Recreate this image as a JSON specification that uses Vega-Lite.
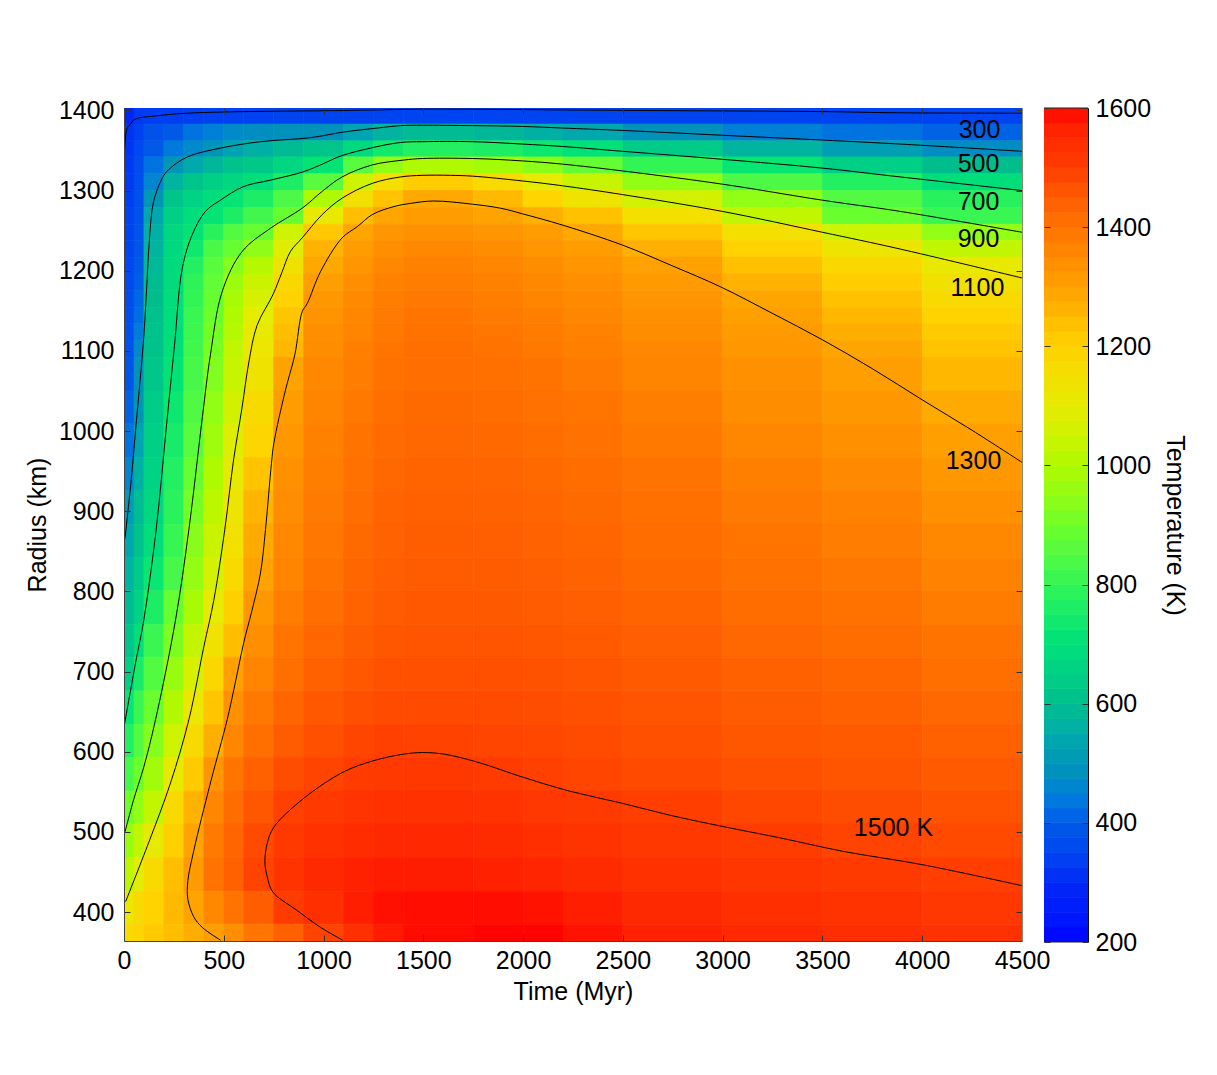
{"padding":{"left":25,"top":96,"right":5,"bottom":5},"background":"white","config":{"view":{"stroke":null},"axis":{"grid":false,"labelFont":"Liberation Sans","titleFont":"Liberation Sans","labelFontSize":25,"titleFontSize":25,"titleFontWeight":"normal","labelColor":"#000","titleColor":"#000","tickColor":"#333","domainColor":"#444","labelOverlap":false,"labelFlush":false,"format":"d"}},"datasets":{
"timeBins":[{"t":0,"t2":50},{"t":50,"t2":100},{"t":100,"t2":200},{"t":200,"t2":300},{"t":300,"t2":400},{"t":400,"t2":500},{"t":500,"t2":600},{"t":600,"t2":750},{"t":750,"t2":900},{"t":900,"t2":1100},{"t":1100,"t2":1250},{"t":1250,"t2":1400},{"t":1400,"t2":1750},{"t":1750,"t2":2000},{"t":2000,"t2":2200},{"t":2200,"t2":2500},{"t":2500,"t2":3000},{"t":3000,"t2":3500},{"t":3500,"t2":4000},{"t":4000,"t2":4500}],
"radiusBins":[{"r":1383,"r2":1403},{"r":1362,"r2":1383},{"r":1342,"r2":1362},{"r":1321,"r2":1342},{"r":1300,"r2":1321},{"r":1279,"r2":1300},{"r":1258,"r2":1279},{"r":1238,"r2":1258},{"r":1217,"r2":1238},{"r":1196,"r2":1217},{"r":1175,"r2":1196},{"r":1154,"r2":1175},{"r":1134,"r2":1154},{"r":1113,"r2":1134},{"r":1092,"r2":1113},{"r":1050,"r2":1092},{"r":1009,"r2":1050},{"r":967,"r2":1009},{"r":926,"r2":967},{"r":884,"r2":926},{"r":842,"r2":884},{"r":801,"r2":842},{"r":759,"r2":801},{"r":718,"r2":759},{"r":676,"r2":718},{"r":634,"r2":676},{"r":593,"r2":634},{"r":551,"r2":593},{"r":510,"r2":551},{"r":468,"r2":510},{"r":426,"r2":468},{"r":385,"r2":426},{"r":364,"r2":385}],
"cells":[
{"t":0,"r":1383,"T":300},{"t":50,"r":1383,"T":325},{"t":100,"r":1383,"T":335},{"t":200,"r":1383,"T":335},{"t":300,"r":1383,"T":338},{"t":400,"r":1383,"T":340},{"t":500,"r":1383,"T":340},{"t":600,"r":1383,"T":342},{"t":750,"r":1383,"T":344},{"t":900,"r":1383,"T":345},{"t":1100,"r":1383,"T":345},{"t":1250,"r":1383,"T":345},{"t":1400,"r":1383,"T":345},{"t":1750,"r":1383,"T":345},{"t":2000,"r":1383,"T":345},{"t":2200,"r":1383,"T":345},{"t":2500,"r":1383,"T":345},{"t":3000,"r":1383,"T":345},{"t":3500,"r":1383,"T":345},{"t":4000,"r":1383,"T":345},
{"t":0,"r":1362,"T":315},{"t":50,"r":1362,"T":340},{"t":100,"r":1362,"T":380},{"t":200,"r":1362,"T":400},{"t":300,"r":1362,"T":430},{"t":400,"r":1362,"T":450},{"t":500,"r":1362,"T":470},{"t":600,"r":1362,"T":480},{"t":750,"r":1362,"T":490},{"t":900,"r":1362,"T":490},{"t":1100,"r":1362,"T":530},{"t":1250,"r":1362,"T":570},{"t":1400,"r":1362,"T":590},{"t":1750,"r":1362,"T":580},{"t":2000,"r":1362,"T":560},{"t":2200,"r":1362,"T":540},{"t":2500,"r":1362,"T":490},{"t":3000,"r":1362,"T":450},{"t":3500,"r":1362,"T":430},{"t":4000,"r":1362,"T":410},
{"t":0,"r":1342,"T":320},{"t":50,"r":1342,"T":355},{"t":100,"r":1342,"T":400},{"t":200,"r":1342,"T":440},{"t":300,"r":1342,"T":470},{"t":400,"r":1342,"T":495},{"t":500,"r":1342,"T":530},{"t":600,"r":1342,"T":560},{"t":750,"r":1342,"T":590},{"t":900,"r":1342,"T":620},{"t":1100,"r":1342,"T":680},{"t":1250,"r":1342,"T":740},{"t":1400,"r":1342,"T":770},{"t":1750,"r":1342,"T":760},{"t":2000,"r":1342,"T":730},{"t":2200,"r":1342,"T":700},{"t":2500,"r":1342,"T":640},{"t":3000,"r":1342,"T":570},{"t":3500,"r":1342,"T":520},{"t":4000,"r":1342,"T":480},
{"t":0,"r":1321,"T":325},{"t":50,"r":1321,"T":365},{"t":100,"r":1321,"T":430},{"t":200,"r":1321,"T":500},{"t":300,"r":1321,"T":545},{"t":400,"r":1321,"T":580},{"t":500,"r":1321,"T":610},{"t":600,"r":1321,"T":630},{"t":750,"r":1321,"T":670},{"t":900,"r":1321,"T":715},{"t":1100,"r":1321,"T":860},{"t":1250,"r":1321,"T":950},{"t":1400,"r":1321,"T":1000},{"t":1750,"r":1321,"T":980},{"t":2000,"r":1321,"T":940},{"t":2200,"r":1321,"T":880},{"t":2500,"r":1321,"T":800},{"t":3000,"r":1321,"T":720},{"t":3500,"r":1321,"T":650},{"t":4000,"r":1321,"T":600},
{"t":0,"r":1300,"T":330},{"t":50,"r":1300,"T":370},{"t":100,"r":1300,"T":460},{"t":200,"r":1300,"T":570},{"t":300,"r":1300,"T":620},{"t":400,"r":1300,"T":650},{"t":500,"r":1300,"T":670},{"t":600,"r":1300,"T":695},{"t":750,"r":1300,"T":760},{"t":900,"r":1300,"T":860},{"t":1100,"r":1300,"T":1050},{"t":1250,"r":1300,"T":1150},{"t":1400,"r":1300,"T":1210},{"t":1750,"r":1300,"T":1170},{"t":2000,"r":1300,"T":1100},{"t":2200,"r":1300,"T":1040},{"t":2500,"r":1300,"T":950},{"t":3000,"r":1300,"T":840},{"t":3500,"r":1300,"T":770},{"t":4000,"r":1300,"T":690},
{"t":0,"r":1279,"T":335},{"t":50,"r":1279,"T":375},{"t":100,"r":1279,"T":500},{"t":200,"r":1279,"T":620},{"t":300,"r":1279,"T":660},{"t":400,"r":1279,"T":690},{"t":500,"r":1279,"T":715},{"t":600,"r":1279,"T":760},{"t":750,"r":1279,"T":840},{"t":900,"r":1279,"T":1000},{"t":1100,"r":1279,"T":1150},{"t":1250,"r":1279,"T":1230},{"t":1400,"r":1279,"T":1285},{"t":1750,"r":1279,"T":1250},{"t":2000,"r":1279,"T":1190},{"t":2200,"r":1279,"T":1130},{"t":2500,"r":1279,"T":1060},{"t":3000,"r":1279,"T":950},{"t":3500,"r":1279,"T":850},{"t":4000,"r":1279,"T":780},
{"t":0,"r":1258,"T":340},{"t":50,"r":1258,"T":380},{"t":100,"r":1258,"T":540},{"t":200,"r":1258,"T":650},{"t":300,"r":1258,"T":690},{"t":400,"r":1258,"T":715},{"t":500,"r":1258,"T":760},{"t":600,"r":1258,"T":820},{"t":750,"r":1258,"T":885},{"t":900,"r":1258,"T":1110},{"t":1100,"r":1258,"T":1240},{"t":1250,"r":1258,"T":1290},{"t":1400,"r":1258,"T":1310},{"t":1750,"r":1258,"T":1295},{"t":2000,"r":1258,"T":1270},{"t":2200,"r":1258,"T":1235},{"t":2500,"r":1258,"T":1150},{"t":3000,"r":1258,"T":1030},{"t":3500,"r":1258,"T":890},{"t":4000,"r":1258,"T":810},
{"t":0,"r":1238,"T":345},{"t":50,"r":1238,"T":385},{"t":100,"r":1238,"T":560},{"t":200,"r":1238,"T":670},{"t":300,"r":1238,"T":710},{"t":400,"r":1238,"T":780},{"t":500,"r":1238,"T":850},{"t":600,"r":1238,"T":885},{"t":750,"r":1238,"T":1050},{"t":900,"r":1238,"T":1220},{"t":1100,"r":1238,"T":1290},{"t":1250,"r":1238,"T":1325},{"t":1400,"r":1238,"T":1335},{"t":1750,"r":1238,"T":1325},{"t":2000,"r":1238,"T":1310},{"t":2200,"r":1238,"T":1285},{"t":2500,"r":1238,"T":1225},{"t":3000,"r":1238,"T":1150},{"t":3500,"r":1238,"T":1050},{"t":4000,"r":1238,"T":950},
{"t":0,"r":1217,"T":350},{"t":50,"r":1217,"T":390},{"t":100,"r":1217,"T":570},{"t":200,"r":1217,"T":675},{"t":300,"r":1217,"T":735},{"t":400,"r":1217,"T":835},{"t":500,"r":1217,"T":885},{"t":600,"r":1217,"T":945},{"t":750,"r":1217,"T":1085},{"t":900,"r":1217,"T":1265},{"t":1100,"r":1217,"T":1310},{"t":1250,"r":1217,"T":1340},{"t":1400,"r":1217,"T":1355},{"t":1750,"r":1217,"T":1345},{"t":2000,"r":1217,"T":1325},{"t":2200,"r":1217,"T":1310},{"t":2500,"r":1217,"T":1270},{"t":3000,"r":1217,"T":1200},{"t":3500,"r":1217,"T":1125},{"t":4000,"r":1217,"T":1030},
{"t":0,"r":1196,"T":355},{"t":50,"r":1196,"T":400},{"t":100,"r":1196,"T":585},{"t":200,"r":1196,"T":680},{"t":300,"r":1196,"T":770},{"t":400,"r":1196,"T":860},{"t":500,"r":1196,"T":930},{"t":600,"r":1196,"T":1010},{"t":750,"r":1196,"T":1135},{"t":900,"r":1196,"T":1285},{"t":1100,"r":1196,"T":1325},{"t":1250,"r":1196,"T":1355},{"t":1400,"r":1196,"T":1370},{"t":1750,"r":1196,"T":1360},{"t":2000,"r":1196,"T":1345},{"t":2200,"r":1196,"T":1325},{"t":2500,"r":1196,"T":1298},{"t":3000,"r":1196,"T":1235},{"t":3500,"r":1196,"T":1180},{"t":4000,"r":1196,"T":1110},
{"t":0,"r":1175,"T":360},{"t":50,"r":1175,"T":405},{"t":100,"r":1175,"T":595},{"t":200,"r":1175,"T":685},{"t":300,"r":1175,"T":790},{"t":400,"r":1175,"T":875},{"t":500,"r":1175,"T":965},{"t":600,"r":1175,"T":1045},{"t":750,"r":1175,"T":1175},{"t":900,"r":1175,"T":1305},{"t":1100,"r":1175,"T":1340},{"t":1250,"r":1175,"T":1370},{"t":1400,"r":1175,"T":1380},{"t":1750,"r":1175,"T":1370},{"t":2000,"r":1175,"T":1355},{"t":2200,"r":1175,"T":1340},{"t":2500,"r":1175,"T":1312},{"t":3000,"r":1175,"T":1265},{"t":3500,"r":1175,"T":1210},{"t":4000,"r":1175,"T":1140},
{"t":0,"r":1154,"T":365},{"t":50,"r":1154,"T":415},{"t":100,"r":1154,"T":600},{"t":200,"r":1154,"T":690},{"t":300,"r":1154,"T":800},{"t":400,"r":1154,"T":885},{"t":500,"r":1154,"T":985},{"t":600,"r":1154,"T":1070},{"t":750,"r":1154,"T":1200},{"t":900,"r":1154,"T":1320},{"t":1100,"r":1154,"T":1350},{"t":1250,"r":1154,"T":1378},{"t":1400,"r":1154,"T":1390},{"t":1750,"r":1154,"T":1378},{"t":2000,"r":1154,"T":1365},{"t":2200,"r":1154,"T":1350},{"t":2500,"r":1154,"T":1325},{"t":3000,"r":1154,"T":1290},{"t":3500,"r":1154,"T":1235},{"t":4000,"r":1154,"T":1170},
{"t":0,"r":1134,"T":370},{"t":50,"r":1134,"T":425},{"t":100,"r":1134,"T":605},{"t":200,"r":1134,"T":690},{"t":300,"r":1134,"T":810},{"t":400,"r":1134,"T":895},{"t":500,"r":1134,"T":1000},{"t":600,"r":1134,"T":1095},{"t":750,"r":1134,"T":1225},{"t":900,"r":1134,"T":1330},{"t":1100,"r":1134,"T":1360},{"t":1250,"r":1134,"T":1385},{"t":1400,"r":1134,"T":1395},{"t":1750,"r":1134,"T":1385},{"t":2000,"r":1134,"T":1375},{"t":2200,"r":1134,"T":1360},{"t":2500,"r":1134,"T":1335},{"t":3000,"r":1134,"T":1302},{"t":3500,"r":1134,"T":1255},{"t":4000,"r":1134,"T":1195},
{"t":0,"r":1113,"T":375},{"t":50,"r":1113,"T":445},{"t":100,"r":1113,"T":610},{"t":200,"r":1113,"T":690},{"t":300,"r":1113,"T":815},{"t":400,"r":1113,"T":905},{"t":500,"r":1113,"T":1010},{"t":600,"r":1113,"T":1110},{"t":750,"r":1113,"T":1240},{"t":900,"r":1113,"T":1340},{"t":1100,"r":1113,"T":1365},{"t":1250,"r":1113,"T":1390},{"t":1400,"r":1113,"T":1402},{"t":1750,"r":1113,"T":1392},{"t":2000,"r":1113,"T":1382},{"t":2200,"r":1113,"T":1368},{"t":2500,"r":1113,"T":1345},{"t":3000,"r":1113,"T":1312},{"t":3500,"r":1113,"T":1275},{"t":4000,"r":1113,"T":1215},
{"t":0,"r":1092,"T":380},{"t":50,"r":1092,"T":465},{"t":100,"r":1092,"T":615},{"t":200,"r":1092,"T":695},{"t":300,"r":1092,"T":820},{"t":400,"r":1092,"T":910},{"t":500,"r":1092,"T":1025},{"t":600,"r":1092,"T":1120},{"t":750,"r":1092,"T":1255},{"t":900,"r":1092,"T":1345},{"t":1100,"r":1092,"T":1372},{"t":1250,"r":1092,"T":1395},{"t":1400,"r":1092,"T":1408},{"t":1750,"r":1092,"T":1400},{"t":2000,"r":1092,"T":1390},{"t":2200,"r":1092,"T":1375},{"t":2500,"r":1092,"T":1355},{"t":3000,"r":1092,"T":1322},{"t":3500,"r":1092,"T":1290},{"t":4000,"r":1092,"T":1230},
{"t":0,"r":1050,"T":390},{"t":50,"r":1050,"T":490},{"t":100,"r":1050,"T":625},{"t":200,"r":1050,"T":710},{"t":300,"r":1050,"T":830},{"t":400,"r":1050,"T":925},{"t":500,"r":1050,"T":1040},{"t":600,"r":1050,"T":1135},{"t":750,"r":1050,"T":1295},{"t":900,"r":1050,"T":1355},{"t":1100,"r":1050,"T":1380},{"t":1250,"r":1050,"T":1402},{"t":1400,"r":1050,"T":1412},{"t":1750,"r":1050,"T":1407},{"t":2000,"r":1050,"T":1398},{"t":2200,"r":1050,"T":1385},{"t":2500,"r":1050,"T":1365},{"t":3000,"r":1050,"T":1335},{"t":3500,"r":1050,"T":1305},{"t":4000,"r":1050,"T":1255},
{"t":0,"r":1009,"T":410},{"t":50,"r":1009,"T":500},{"t":100,"r":1009,"T":640},{"t":200,"r":1009,"T":730},{"t":300,"r":1009,"T":845},{"t":400,"r":1009,"T":950},{"t":500,"r":1009,"T":1060},{"t":600,"r":1009,"T":1165},{"t":750,"r":1009,"T":1310},{"t":900,"r":1009,"T":1362},{"t":1100,"r":1009,"T":1390},{"t":1250,"r":1009,"T":1410},{"t":1400,"r":1009,"T":1420},{"t":1750,"r":1009,"T":1415},{"t":2000,"r":1009,"T":1405},{"t":2200,"r":1009,"T":1395},{"t":2500,"r":1009,"T":1378},{"t":3000,"r":1009,"T":1345},{"t":3500,"r":1009,"T":1320},{"t":4000,"r":1009,"T":1280},
{"t":0,"r":967,"T":430},{"t":50,"r":967,"T":530},{"t":100,"r":967,"T":650},{"t":200,"r":967,"T":750},{"t":300,"r":967,"T":860},{"t":400,"r":967,"T":970},{"t":500,"r":967,"T":1085},{"t":600,"r":967,"T":1190},{"t":750,"r":967,"T":1320},{"t":900,"r":967,"T":1370},{"t":1100,"r":967,"T":1398},{"t":1250,"r":967,"T":1418},{"t":1400,"r":967,"T":1427},{"t":1750,"r":967,"T":1423},{"t":2000,"r":967,"T":1415},{"t":2200,"r":967,"T":1405},{"t":2500,"r":967,"T":1388},{"t":3000,"r":967,"T":1358},{"t":3500,"r":967,"T":1335},{"t":4000,"r":967,"T":1300},
{"t":0,"r":926,"T":460},{"t":50,"r":926,"T":560},{"t":100,"r":926,"T":660},{"t":200,"r":926,"T":770},{"t":300,"r":926,"T":885},{"t":400,"r":926,"T":1000},{"t":500,"r":926,"T":1105},{"t":600,"r":926,"T":1230},{"t":750,"r":926,"T":1335},{"t":900,"r":926,"T":1378},{"t":1100,"r":926,"T":1405},{"t":1250,"r":926,"T":1425},{"t":1400,"r":926,"T":1433},{"t":1750,"r":926,"T":1430},{"t":2000,"r":926,"T":1423},{"t":2200,"r":926,"T":1413},{"t":2500,"r":926,"T":1398},{"t":3000,"r":926,"T":1372},{"t":3500,"r":926,"T":1352},{"t":4000,"r":926,"T":1320},
{"t":0,"r":884,"T":510},{"t":50,"r":884,"T":590},{"t":100,"r":884,"T":670},{"t":200,"r":884,"T":785},{"t":300,"r":884,"T":910},{"t":400,"r":884,"T":1020},{"t":500,"r":884,"T":1125},{"t":600,"r":884,"T":1260},{"t":750,"r":884,"T":1345},{"t":900,"r":884,"T":1385},{"t":1100,"r":884,"T":1412},{"t":1250,"r":884,"T":1432},{"t":1400,"r":884,"T":1440},{"t":1750,"r":884,"T":1437},{"t":2000,"r":884,"T":1430},{"t":2200,"r":884,"T":1420},{"t":2500,"r":884,"T":1407},{"t":3000,"r":884,"T":1385},{"t":3500,"r":884,"T":1368},{"t":4000,"r":884,"T":1335},
{"t":0,"r":842,"T":540},{"t":50,"r":842,"T":610},{"t":100,"r":842,"T":690},{"t":200,"r":842,"T":805},{"t":300,"r":842,"T":935},{"t":400,"r":842,"T":1045},{"t":500,"r":842,"T":1145},{"t":600,"r":842,"T":1280},{"t":750,"r":842,"T":1355},{"t":900,"r":842,"T":1392},{"t":1100,"r":842,"T":1420},{"t":1250,"r":842,"T":1437},{"t":1400,"r":842,"T":1445},{"t":1750,"r":842,"T":1442},{"t":2000,"r":842,"T":1437},{"t":2200,"r":842,"T":1428},{"t":2500,"r":842,"T":1415},{"t":3000,"r":842,"T":1395},{"t":3500,"r":842,"T":1380},{"t":4000,"r":842,"T":1355},
{"t":0,"r":801,"T":570},{"t":50,"r":801,"T":635},{"t":100,"r":801,"T":725},{"t":200,"r":801,"T":830},{"t":300,"r":801,"T":955},{"t":400,"r":801,"T":1065},{"t":500,"r":801,"T":1170},{"t":600,"r":801,"T":1295},{"t":750,"r":801,"T":1365},{"t":900,"r":801,"T":1400},{"t":1100,"r":801,"T":1428},{"t":1250,"r":801,"T":1443},{"t":1400,"r":801,"T":1450},{"t":1750,"r":801,"T":1448},{"t":2000,"r":801,"T":1443},{"t":2200,"r":801,"T":1436},{"t":2500,"r":801,"T":1423},{"t":3000,"r":801,"T":1405},{"t":3500,"r":801,"T":1392},{"t":4000,"r":801,"T":1368},
{"t":0,"r":759,"T":590},{"t":50,"r":759,"T":660},{"t":100,"r":759,"T":760},{"t":200,"r":759,"T":885},{"t":300,"r":759,"T":985},{"t":400,"r":759,"T":1100},{"t":500,"r":759,"T":1205},{"t":600,"r":759,"T":1320},{"t":750,"r":759,"T":1380},{"t":900,"r":759,"T":1412},{"t":1100,"r":759,"T":1435},{"t":1250,"r":759,"T":1450},{"t":1400,"r":759,"T":1455},{"t":1750,"r":759,"T":1454},{"t":2000,"r":759,"T":1450},{"t":2200,"r":759,"T":1443},{"t":2500,"r":759,"T":1432},{"t":3000,"r":759,"T":1415},{"t":3500,"r":759,"T":1402},{"t":4000,"r":759,"T":1382},
{"t":0,"r":718,"T":620},{"t":50,"r":718,"T":695},{"t":100,"r":718,"T":810},{"t":200,"r":718,"T":915},{"t":300,"r":718,"T":1035},{"t":400,"r":718,"T":1140},{"t":500,"r":718,"T":1240},{"t":600,"r":718,"T":1340},{"t":750,"r":718,"T":1395},{"t":900,"r":718,"T":1425},{"t":1100,"r":718,"T":1445},{"t":1250,"r":718,"T":1458},{"t":1400,"r":718,"T":1462},{"t":1750,"r":718,"T":1461},{"t":2000,"r":718,"T":1458},{"t":2200,"r":718,"T":1452},{"t":2500,"r":718,"T":1442},{"t":3000,"r":718,"T":1427},{"t":3500,"r":718,"T":1415},{"t":4000,"r":718,"T":1398},
{"t":0,"r":676,"T":650},{"t":50,"r":676,"T":750},{"t":100,"r":676,"T":850},{"t":200,"r":676,"T":960},{"t":300,"r":676,"T":1070},{"t":400,"r":676,"T":1185},{"t":500,"r":676,"T":1300},{"t":600,"r":676,"T":1365},{"t":750,"r":676,"T":1410},{"t":900,"r":676,"T":1440},{"t":1100,"r":676,"T":1455},{"t":1250,"r":676,"T":1468},{"t":1400,"r":676,"T":1470},{"t":1750,"r":676,"T":1470},{"t":2000,"r":676,"T":1467},{"t":2200,"r":676,"T":1462},{"t":2500,"r":676,"T":1452},{"t":3000,"r":676,"T":1440},{"t":3500,"r":676,"T":1428},{"t":4000,"r":676,"T":1410},
{"t":0,"r":634,"T":720},{"t":50,"r":634,"T":810},{"t":100,"r":634,"T":890},{"t":200,"r":634,"T":1005},{"t":300,"r":634,"T":1120},{"t":400,"r":634,"T":1225},{"t":500,"r":634,"T":1335},{"t":600,"r":634,"T":1390},{"t":750,"r":634,"T":1430},{"t":900,"r":634,"T":1455},{"t":1100,"r":634,"T":1470},{"t":1250,"r":634,"T":1478},{"t":1400,"r":634,"T":1480},{"t":1750,"r":634,"T":1478},{"t":2000,"r":634,"T":1475},{"t":2200,"r":634,"T":1470},{"t":2500,"r":634,"T":1462},{"t":3000,"r":634,"T":1450},{"t":3500,"r":634,"T":1440},{"t":4000,"r":634,"T":1425},
{"t":0,"r":593,"T":770},{"t":50,"r":593,"T":850},{"t":100,"r":593,"T":930},{"t":200,"r":593,"T":1050},{"t":300,"r":593,"T":1165},{"t":400,"r":593,"T":1270},{"t":500,"r":593,"T":1360},{"t":600,"r":593,"T":1410},{"t":750,"r":593,"T":1450},{"t":900,"r":593,"T":1470},{"t":1100,"r":593,"T":1488},{"t":1250,"r":593,"T":1494},{"t":1400,"r":593,"T":1492},{"t":1750,"r":593,"T":1488},{"t":2000,"r":593,"T":1484},{"t":2200,"r":593,"T":1478},{"t":2500,"r":593,"T":1470},{"t":3000,"r":593,"T":1460},{"t":3500,"r":593,"T":1452},{"t":4000,"r":593,"T":1440},
{"t":0,"r":551,"T":825},{"t":50,"r":551,"T":895},{"t":100,"r":551,"T":975},{"t":200,"r":551,"T":1110},{"t":300,"r":551,"T":1215},{"t":400,"r":551,"T":1325},{"t":500,"r":551,"T":1395},{"t":600,"r":551,"T":1440},{"t":750,"r":551,"T":1475},{"t":900,"r":551,"T":1490},{"t":1100,"r":551,"T":1503},{"t":1250,"r":551,"T":1510},{"t":1400,"r":551,"T":1512},{"t":1750,"r":551,"T":1502},{"t":2000,"r":551,"T":1495},{"t":2200,"r":551,"T":1488},{"t":2500,"r":551,"T":1480},{"t":3000,"r":551,"T":1470},{"t":3500,"r":551,"T":1462},{"t":4000,"r":551,"T":1452},
{"t":0,"r":510,"T":900},{"t":50,"r":510,"T":950},{"t":100,"r":510,"T":1030},{"t":200,"r":510,"T":1170},{"t":300,"r":510,"T":1265},{"t":400,"r":510,"T":1360},{"t":500,"r":510,"T":1415},{"t":600,"r":510,"T":1460},{"t":750,"r":510,"T":1495},{"t":900,"r":510,"T":1510},{"t":1100,"r":510,"T":1522},{"t":1250,"r":510,"T":1530},{"t":1400,"r":510,"T":1532},{"t":1750,"r":510,"T":1525},{"t":2000,"r":510,"T":1515},{"t":2200,"r":510,"T":1507},{"t":2500,"r":510,"T":1498},{"t":3000,"r":510,"T":1485},{"t":3500,"r":510,"T":1475},{"t":4000,"r":510,"T":1465},
{"t":0,"r":468,"T":960},{"t":50,"r":468,"T":1030},{"t":100,"r":468,"T":1105},{"t":200,"r":468,"T":1205},{"t":300,"r":468,"T":1295},{"t":400,"r":468,"T":1385},{"t":500,"r":468,"T":1430},{"t":600,"r":468,"T":1480},{"t":750,"r":468,"T":1510},{"t":900,"r":468,"T":1530},{"t":1100,"r":468,"T":1542},{"t":1250,"r":468,"T":1550},{"t":1400,"r":468,"T":1552},{"t":1750,"r":468,"T":1545},{"t":2000,"r":468,"T":1535},{"t":2200,"r":468,"T":1525},{"t":2500,"r":468,"T":1512},{"t":3000,"r":468,"T":1500},{"t":3500,"r":468,"T":1490},{"t":4000,"r":468,"T":1480},
{"t":0,"r":426,"T":1020},{"t":50,"r":426,"T":1095},{"t":100,"r":426,"T":1170},{"t":200,"r":426,"T":1240},{"t":300,"r":426,"T":1315},{"t":400,"r":426,"T":1400},{"t":500,"r":426,"T":1440},{"t":600,"r":426,"T":1490},{"t":750,"r":426,"T":1525},{"t":900,"r":426,"T":1550},{"t":1100,"r":426,"T":1565},{"t":1250,"r":426,"T":1572},{"t":1400,"r":426,"T":1572},{"t":1750,"r":426,"T":1565},{"t":2000,"r":426,"T":1558},{"t":2200,"r":426,"T":1545},{"t":2500,"r":426,"T":1530},{"t":3000,"r":426,"T":1518},{"t":3500,"r":426,"T":1507},{"t":4000,"r":426,"T":1498},
{"t":0,"r":385,"T":1120},{"t":50,"r":385,"T":1170},{"t":100,"r":385,"T":1200},{"t":200,"r":385,"T":1250},{"t":300,"r":385,"T":1295},{"t":400,"r":385,"T":1355},{"t":500,"r":385,"T":1400},{"t":600,"r":385,"T":1445},{"t":750,"r":385,"T":1500},{"t":900,"r":385,"T":1535},{"t":1100,"r":385,"T":1570},{"t":1250,"r":385,"T":1588},{"t":1400,"r":385,"T":1590},{"t":1750,"r":385,"T":1590},{"t":2000,"r":385,"T":1585},{"t":2200,"r":385,"T":1570},{"t":2500,"r":385,"T":1550},{"t":3000,"r":385,"T":1535},{"t":3500,"r":385,"T":1525},{"t":4000,"r":385,"T":1515},
{"t":0,"r":364,"T":1170},{"t":50,"r":364,"T":1190},{"t":100,"r":364,"T":1215},{"t":200,"r":364,"T":1240},{"t":300,"r":364,"T":1275},{"t":400,"r":364,"T":1305},{"t":500,"r":364,"T":1340},{"t":600,"r":364,"T":1395},{"t":750,"r":364,"T":1440},{"t":900,"r":364,"T":1490},{"t":1100,"r":364,"T":1535},{"t":1250,"r":364,"T":1575},{"t":1400,"r":364,"T":1592},{"t":1750,"r":364,"T":1598},{"t":2000,"r":364,"T":1598},{"t":2200,"r":364,"T":1585},{"t":2500,"r":364,"T":1565},{"t":3000,"r":364,"T":1550},{"t":3500,"r":364,"T":1540},{"t":4000,"r":364,"T":1530}
],
"contours":[
{"L":300,"i":1,"t":3,"r":1351},{"L":300,"i":2,"t":10,"r":1372},{"L":300,"i":3,"t":18,"r":1379},{"L":300,"i":4,"t":33,"r":1383},{"L":300,"i":5,"t":48,"r":1388},{"L":300,"i":6,"t":83,"r":1391},{"L":300,"i":7,"t":133,"r":1392.5},{"L":300,"i":8,"t":283,"r":1396},{"L":300,"i":9,"t":494,"r":1398},{"L":300,"i":10,"t":1135,"r":1400},{"L":300,"i":11,"t":1496,"r":1401.5},{"L":300,"i":12,"t":1997,"r":1401},{"L":300,"i":13,"t":2498,"r":1400},{"L":300,"i":14,"t":2999,"r":1399.4},{"L":300,"i":15,"t":3500,"r":1398.5},{"L":300,"i":16,"t":3891,"r":1397},{"L":300,"i":17,"t":4500,"r":1396.5},
{"L":500,"i":1,"t":5,"r":866},{"L":500,"i":2,"t":36,"r":939},{"L":500,"i":3,"t":58,"r":1001},{"L":500,"i":4,"t":98,"r":1114},{"L":500,"i":5,"t":113,"r":1176},{"L":500,"i":6,"t":128,"r":1241},{"L":500,"i":7,"t":148,"r":1286},{"L":500,"i":8,"t":193,"r":1316},{"L":500,"i":9,"t":223,"r":1326},{"L":500,"i":10,"t":318,"r":1342},{"L":500,"i":11,"t":484,"r":1353},{"L":500,"i":12,"t":684,"r":1361},{"L":500,"i":13,"t":935,"r":1366},{"L":500,"i":14,"t":1100,"r":1373},{"L":500,"i":15,"t":1270,"r":1378},{"L":500,"i":16,"t":1386,"r":1381},{"L":500,"i":17,"t":1496,"r":1381.5},{"L":500,"i":18,"t":1746,"r":1381},{"L":500,"i":19,"t":1997,"r":1380},{"L":500,"i":20,"t":2197,"r":1378},{"L":500,"i":21,"t":2498,"r":1375},{"L":500,"i":22,"t":2999,"r":1369},{"L":500,"i":23,"t":3500,"r":1363},{"L":500,"i":24,"t":3891,"r":1358},{"L":500,"i":25,"t":4500,"r":1349},
{"L":700,"i":1,"t":3,"r":635},{"L":700,"i":2,"t":58,"r":711},{"L":700,"i":3,"t":99,"r":764},{"L":700,"i":4,"t":161,"r":877},{"L":700,"i":5,"t":211,"r":1002},{"L":700,"i":6,"t":253,"r":1107},{"L":700,"i":7,"t":292,"r":1203},{"L":700,"i":8,"t":342,"r":1245},{"L":700,"i":9,"t":408,"r":1274},{"L":700,"i":10,"t":483,"r":1288},{"L":700,"i":11,"t":599,"r":1305},{"L":700,"i":12,"t":734,"r":1313},{"L":700,"i":13,"t":893,"r":1323},{"L":700,"i":14,"t":985,"r":1332},{"L":700,"i":15,"t":1085,"r":1343},{"L":700,"i":16,"t":1235,"r":1353},{"L":700,"i":17,"t":1386,"r":1360},{"L":700,"i":18,"t":1496,"r":1361},{"L":700,"i":19,"t":1746,"r":1361},{"L":700,"i":20,"t":1997,"r":1358},{"L":700,"i":21,"t":2197,"r":1355},{"L":700,"i":22,"t":2498,"r":1349},{"L":700,"i":23,"t":2999,"r":1339},{"L":700,"i":24,"t":3500,"r":1328},{"L":700,"i":25,"t":3891,"r":1317},{"L":700,"i":26,"t":4500,"r":1300},
{"L":900,"i":1,"t":5,"r":500},{"L":900,"i":2,"t":48,"r":540},{"L":900,"i":3,"t":98,"r":580},{"L":900,"i":4,"t":158,"r":640},{"L":900,"i":5,"t":258,"r":764},{"L":900,"i":6,"t":325,"r":877},{"L":900,"i":7,"t":393,"r":1018},{"L":900,"i":8,"t":433,"r":1095},{"L":900,"i":9,"t":492,"r":1174},{"L":900,"i":10,"t":592,"r":1224},{"L":900,"i":11,"t":734,"r":1253},{"L":900,"i":12,"t":893,"r":1278},{"L":900,"i":13,"t":993,"r":1299},{"L":900,"i":14,"t":1093,"r":1317},{"L":900,"i":15,"t":1244,"r":1332},{"L":900,"i":16,"t":1400,"r":1338},{"L":900,"i":17,"t":1496,"r":1340},{"L":900,"i":18,"t":1746,"r":1340},{"L":900,"i":19,"t":1997,"r":1337},{"L":900,"i":20,"t":2197,"r":1333},{"L":900,"i":21,"t":2498,"r":1324.5},{"L":900,"i":22,"t":2999,"r":1308},{"L":900,"i":23,"t":3500,"r":1288},{"L":900,"i":24,"t":3891,"r":1274},{"L":900,"i":25,"t":4500,"r":1248},
{"L":1100,"i":1,"t":8,"r":413},{"L":1100,"i":2,"t":124,"r":487},{"L":1100,"i":3,"t":233,"r":561},{"L":1100,"i":4,"t":325,"r":640},{"L":1100,"i":5,"t":400,"r":731},{"L":1100,"i":6,"t":450,"r":789},{"L":1100,"i":7,"t":505,"r":877},{"L":1100,"i":8,"t":549,"r":964},{"L":1100,"i":9,"t":592,"r":1030},{"L":1100,"i":10,"t":625,"r":1085},{"L":1100,"i":11,"t":667,"r":1132},{"L":1100,"i":12,"t":746,"r":1170},{"L":1100,"i":13,"t":793,"r":1199},{"L":1100,"i":14,"t":834,"r":1224},{"L":1100,"i":15,"t":893,"r":1241},{"L":1100,"i":16,"t":993,"r":1270},{"L":1100,"i":17,"t":1093,"r":1290.5},{"L":1100,"i":18,"t":1244,"r":1309},{"L":1100,"i":19,"t":1386,"r":1317},{"L":1100,"i":20,"t":1494,"r":1319},{"L":1100,"i":21,"t":1636,"r":1319},{"L":1100,"i":22,"t":1746,"r":1318},{"L":1100,"i":23,"t":1997,"r":1312},{"L":1100,"i":24,"t":2197,"r":1306},{"L":1100,"i":25,"t":2498,"r":1295},{"L":1100,"i":26,"t":2999,"r":1274},{"L":1100,"i":27,"t":3500,"r":1248},{"L":1100,"i":28,"t":3891,"r":1227},{"L":1100,"i":29,"t":4500,"r":1191},
{"L":1300,"i":1,"t":484,"r":365},{"L":1300,"i":2,"t":392,"r":381},{"L":1300,"i":3,"t":350,"r":394},{"L":1300,"i":4,"t":320,"r":416},{"L":1300,"i":5,"t":320,"r":439},{"L":1300,"i":6,"t":350,"r":477},{"L":1300,"i":7,"t":433,"r":561},{"L":1300,"i":8,"t":517,"r":640},{"L":1300,"i":9,"t":550,"r":677},{"L":1300,"i":10,"t":600,"r":736},{"L":1300,"i":11,"t":642,"r":777},{"L":1300,"i":12,"t":684,"r":823},{"L":1300,"i":13,"t":709,"r":877},{"L":1300,"i":14,"t":739,"r":960},{"L":1300,"i":15,"t":751,"r":985},{"L":1300,"i":16,"t":809,"r":1051},{"L":1300,"i":17,"t":856,"r":1095},{"L":1300,"i":18,"t":893,"r":1149},{"L":1300,"i":19,"t":918,"r":1159},{"L":1300,"i":20,"t":985,"r":1199},{"L":1300,"i":21,"t":1093,"r":1241},{"L":1300,"i":22,"t":1169,"r":1255},{"L":1300,"i":23,"t":1244,"r":1270},{"L":1300,"i":24,"t":1352,"r":1280},{"L":1300,"i":25,"t":1436,"r":1284},{"L":1300,"i":26,"t":1551,"r":1287},{"L":1300,"i":27,"t":1746,"r":1283},{"L":1300,"i":28,"t":1887,"r":1278},{"L":1300,"i":29,"t":1997,"r":1271},{"L":1300,"i":30,"t":2197,"r":1257},{"L":1300,"i":31,"t":2498,"r":1232},{"L":1300,"i":32,"t":2749,"r":1206},{"L":1300,"i":33,"t":2989,"r":1180},{"L":1300,"i":34,"t":3248,"r":1147},{"L":1300,"i":35,"t":3499,"r":1114},{"L":1300,"i":36,"t":3749,"r":1078},{"L":1300,"i":37,"t":4000,"r":1039},{"L":1300,"i":38,"t":4250,"r":1001},{"L":1300,"i":39,"t":4500,"r":961},
{"L":1500,"i":1,"t":1096,"r":365},{"L":1500,"i":2,"t":985,"r":381},{"L":1500,"i":3,"t":868,"r":402},{"L":1500,"i":4,"t":746,"r":425},{"L":1500,"i":5,"t":718,"r":444},{"L":1500,"i":6,"t":706,"r":463},{"L":1500,"i":7,"t":718,"r":486},{"L":1500,"i":8,"t":751,"r":506},{"L":1500,"i":9,"t":901,"r":542},{"L":1500,"i":10,"t":1101,"r":575},{"L":1500,"i":11,"t":1252,"r":589},{"L":1500,"i":12,"t":1400,"r":597},{"L":1500,"i":13,"t":1496,"r":599},{"L":1500,"i":14,"t":1606,"r":597},{"L":1500,"i":15,"t":1786,"r":586},{"L":1500,"i":16,"t":1990,"r":569},{"L":1500,"i":17,"t":2232,"r":551},{"L":1500,"i":18,"t":2493,"r":536},{"L":1500,"i":19,"t":2734,"r":521},{"L":1500,"i":20,"t":2997,"r":507},{"L":1500,"i":21,"t":3300,"r":492},{"L":1500,"i":22,"t":3600,"r":476},{"L":1500,"i":23,"t":4004,"r":459},{"L":1500,"i":24,"t":4500,"r":433}
],
"labels":[{"t":4287,"r":1376,"s":"300"},{"t":4282,"r":1333,"s":"500"},{"t":4282,"r":1286,"s":"700"},{"t":4282,"r":1240,"s":"900"},{"t":4277,"r":1178,"s":"1100"},{"t":4257,"r":963,"s":"1300"},{"t":3856,"r":505,"s":"1500 K"}],
"bar":[{"a":200,"b":225,"T":212,"x":0,"x2":1},{"a":225,"b":250,"T":237,"x":0,"x2":1},{"a":250,"b":275,"T":262,"x":0,"x2":1},{"a":275,"b":300,"T":287,"x":0,"x2":1},{"a":300,"b":325,"T":312,"x":0,"x2":1},{"a":325,"b":350,"T":337,"x":0,"x2":1},{"a":350,"b":375,"T":362,"x":0,"x2":1},{"a":375,"b":400,"T":387,"x":0,"x2":1},{"a":400,"b":425,"T":412,"x":0,"x2":1},{"a":425,"b":450,"T":437,"x":0,"x2":1},{"a":450,"b":475,"T":462,"x":0,"x2":1},{"a":475,"b":500,"T":487,"x":0,"x2":1},{"a":500,"b":525,"T":512,"x":0,"x2":1},{"a":525,"b":550,"T":537,"x":0,"x2":1},{"a":550,"b":575,"T":562,"x":0,"x2":1},{"a":575,"b":600,"T":587,"x":0,"x2":1},{"a":600,"b":625,"T":612,"x":0,"x2":1},{"a":625,"b":650,"T":637,"x":0,"x2":1},{"a":650,"b":675,"T":662,"x":0,"x2":1},{"a":675,"b":700,"T":687,"x":0,"x2":1},{"a":700,"b":725,"T":712,"x":0,"x2":1},{"a":725,"b":750,"T":737,"x":0,"x2":1},{"a":750,"b":775,"T":762,"x":0,"x2":1},{"a":775,"b":800,"T":787,"x":0,"x2":1},{"a":800,"b":825,"T":812,"x":0,"x2":1},{"a":825,"b":850,"T":837,"x":0,"x2":1},{"a":850,"b":875,"T":862,"x":0,"x2":1},{"a":875,"b":900,"T":887,"x":0,"x2":1},{"a":900,"b":925,"T":912,"x":0,"x2":1},{"a":925,"b":950,"T":937,"x":0,"x2":1},{"a":950,"b":975,"T":962,"x":0,"x2":1},{"a":975,"b":1000,"T":987,"x":0,"x2":1},{"a":1000,"b":1025,"T":1012,"x":0,"x2":1},{"a":1025,"b":1050,"T":1037,"x":0,"x2":1},{"a":1050,"b":1075,"T":1062,"x":0,"x2":1},{"a":1075,"b":1100,"T":1087,"x":0,"x2":1},{"a":1100,"b":1125,"T":1112,"x":0,"x2":1},{"a":1125,"b":1150,"T":1137,"x":0,"x2":1},{"a":1150,"b":1175,"T":1162,"x":0,"x2":1},{"a":1175,"b":1200,"T":1187,"x":0,"x2":1},{"a":1200,"b":1225,"T":1212,"x":0,"x2":1},{"a":1225,"b":1250,"T":1237,"x":0,"x2":1},{"a":1250,"b":1275,"T":1262,"x":0,"x2":1},{"a":1275,"b":1300,"T":1287,"x":0,"x2":1},{"a":1300,"b":1325,"T":1312,"x":0,"x2":1},{"a":1325,"b":1350,"T":1337,"x":0,"x2":1},{"a":1350,"b":1375,"T":1362,"x":0,"x2":1},{"a":1375,"b":1400,"T":1387,"x":0,"x2":1},{"a":1400,"b":1425,"T":1412,"x":0,"x2":1},{"a":1425,"b":1450,"T":1437,"x":0,"x2":1},{"a":1450,"b":1475,"T":1462,"x":0,"x2":1},{"a":1475,"b":1500,"T":1487,"x":0,"x2":1},{"a":1500,"b":1525,"T":1512,"x":0,"x2":1},{"a":1525,"b":1550,"T":1537,"x":0,"x2":1},{"a":1550,"b":1575,"T":1562,"x":0,"x2":1},{"a":1575,"b":1600,"T":1587,"x":0,"x2":1}],
"barEdges":[{"T":200},{"T":1600}]
},
"hconcat":[
{"width":898,"height":833,"layer":[
{"data":{"name":"cells"},"transform":[{"lookup":"t","from":{"data":{"name":"timeBins"},"key":"t","fields":["t2"]}},{"lookup":"r","from":{"data":{"name":"radiusBins"},"key":"r","fields":["r2"]}}],"mark":{"type":"rect","strokeWidth":0.7,"clip":true},"encoding":{
"x":{"field":"t","type":"quantitative","scale":{"domain":[0,4500],"nice":false},"axis":{"title":"Time (Myr)","values":[0,500,1000,1500,2000,2500,3000,3500,4000,4500],"tickSize":-6,"labelPadding":13,"titlePadding":6,"zindex":1}},
"x2":{"field":"t2"},
"y":{"field":"r","type":"quantitative","scale":{"domain":[364,1403],"nice":false},"axis":{"title":"Radius (km)","values":[400,500,600,700,800,900,1000,1100,1200,1300,1400],"tickSize":-6,"labelPadding":16,"titlePadding":8,"zindex":1}},
"y2":{"field":"r2"},
"color":{"field":"T","type":"quantitative","scale":{"domain":[200,300,400,500,600,700,800,900,1000,1100,1200,1300,1400,1500,1600],"range":["#0000ff","#0028f5","#005ae6","#0096b4","#00be8c","#00e178","#32f555","#6eff28","#afFA00","#e6eb00","#ffd200","#ffa000","#ff7300","#ff3c00","#ff0000"]},"legend":null},
"stroke":{"field":"T","type":"quantitative","scale":{"domain":[200,300,400,500,600,700,800,900,1000,1100,1200,1300,1400,1500,1600],"range":["#0000ff","#0028f5","#005ae6","#0096b4","#00be8c","#00e178","#32f555","#6eff28","#afFA00","#e6eb00","#ffd200","#ffa000","#ff7300","#ff3c00","#ff0000"]},"legend":null}}},
{"data":{"name":"contours"},"mark":{"type":"line","color":"#000","strokeWidth":1,"clip":true,"interpolate":"catmull-rom"},"encoding":{
"x":{"field":"t","type":"quantitative","axis":{"orient":"top","labels":false,"title":null,"domain":false,"values":[0,500,1000,1500,2000,2500,3000,3500,4000,4500],"tickSize":-6,"zindex":1}},
"y":{"field":"r","type":"quantitative","axis":{"orient":"right","labels":false,"title":null,"domainColor":"#8a8a70","values":[400,500,600,700,800,900,1000,1100,1200,1300,1400],"tickSize":-6,"zindex":1}},
"detail":{"field":"L","type":"nominal"},"order":{"field":"i","type":"quantitative"}}},
{"data":{"name":"labels"},"mark":{"type":"text","font":"Liberation Sans","fontSize":25,"color":"#000","align":"center","baseline":"middle"},"encoding":{
"x":{"field":"t","type":"quantitative","axis":null},
"y":{"field":"r","type":"quantitative","axis":null},
"text":{"field":"s"}}}
],"resolve":{"axis":{"x":"independent","y":"independent"}}},
{"width":44,"height":834,"layer":[
{"data":{"name":"bar"},"mark":{"type":"rect","strokeWidth":0.7,"clip":true},"encoding":{
"x":{"field":"x","type":"quantitative","scale":{"domain":[0,1]},"axis":null},"x2":{"field":"x2"},
"y":{"field":"a","type":"quantitative","scale":{"domain":[200,1600],"nice":false},"axis":{"orient":"right","title":"Temperature (K)","titleAngle":90,"values":[200,400,600,800,1000,1200,1400,1600],"tickSize":-6,"domainColor":"#000","labelPadding":13,"titlePadding":11,"zindex":1}},
"y2":{"field":"b"},
"color":{"field":"T","type":"quantitative","scale":{"domain":[200,300,400,500,600,700,800,900,1000,1100,1200,1300,1400,1500,1600],"range":["#0000ff","#0028f5","#005ae6","#0096b4","#00be8c","#00e178","#32f555","#6eff28","#afFA00","#e6eb00","#ffd200","#ffa000","#ff7300","#ff3c00","#ff0000"]},"legend":null},
"stroke":{"field":"T","type":"quantitative","scale":{"domain":[200,300,400,500,600,700,800,900,1000,1100,1200,1300,1400,1500,1600],"range":["#0000ff","#0028f5","#005ae6","#0096b4","#00be8c","#00e178","#32f555","#6eff28","#afFA00","#e6eb00","#ffd200","#ffa000","#ff7300","#ff3c00","#ff0000"]},"legend":null}}},
{"data":{"name":"barEdges"},"mark":{"type":"rule","color":"#222","strokeWidth":1},"encoding":{
"y":{"field":"T","type":"quantitative","axis":{"orient":"left","labels":false,"title":null,"domain":false,"values":[200,400,600,800,1000,1200,1400,1600],"tickSize":-6,"zindex":1}}}}
],"resolve":{"axis":{"y":"independent"}}}
],
"spacing":22,"bounds":"flush"}
